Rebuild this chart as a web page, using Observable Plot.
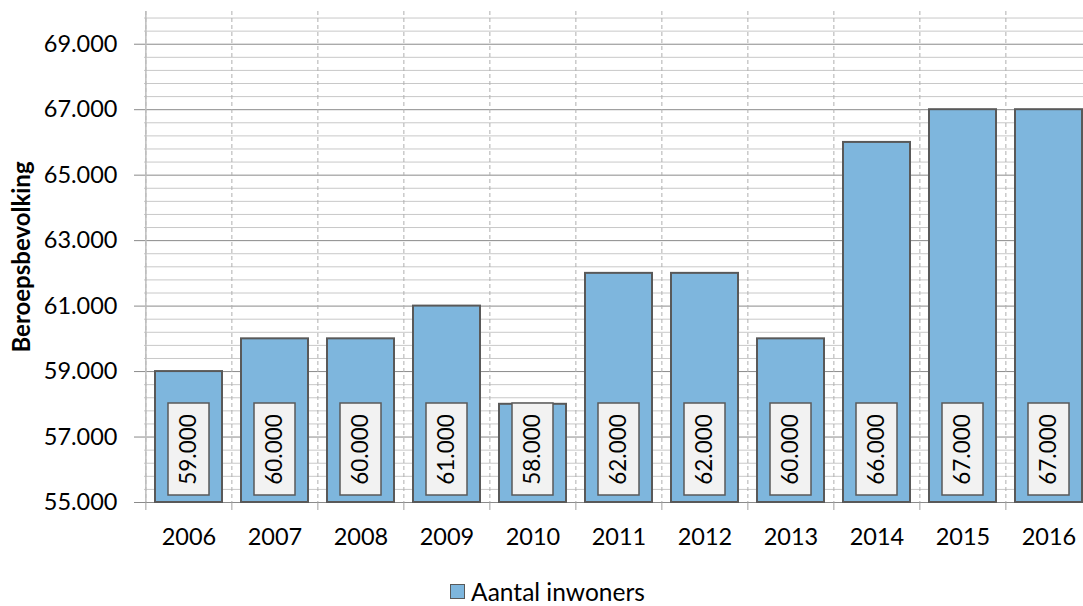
<!DOCTYPE html>
<html>
<head>
<meta charset="utf-8">
<script src="https://cdn.jsdelivr.net/npm/d3@7"></script>
<script src="https://cdn.jsdelivr.net/npm/@observablehq/plot@0.6"></script>
<style>
  html, body { margin: 0; padding: 0; background: #fff; overflow: hidden; }
  #chart svg { overflow: hidden; display: block; }
  #legend {
    height: 36px;
    display: flex;
    align-items: center;
    justify-content: center;
    padding-left: 12px;
    padding-top: 6px;
    box-sizing: border-box;
    font-family: Lato, sans-serif;
    font-size: 24.5px;
    color: #000;
  }
  #legend .swatch {
    width: 13px; height: 13px;
    background: #7eb6dd;
    border: 1.5px solid #595959;
    margin-right: 6px;
  }
</style>
</head>
<body>
<div id="chart"></div>
<div id="legend"><span class="swatch"></span><span id="legend-text"></span></div>
<script>
// Beroepsbevolking per jaar
const years = ["2006", "2007", "2008", "2009", "2010", "2011", "2012", "2013", "2014", "2015", "2016"];
const inwoners = [59000, 60000, 60000, 61000, 58000, 62000, 62000, 60000, 66000, 67000, 67000];
const yTicks = [55000, 57000, 59000, 61000, 63000, 65000, 67000, 69000];
const yDomain = [55000, 70000];
const seriesName = "Aantal inwoners";
const yTitle = "Beroepsbevolking";

const data = years.map((year, i) => ({year, value: inwoners[i]}));
const yBase = yDomain[0];
const minorTicks = d3.range(yDomain[0], yDomain[1], 400).filter(v => !yTicks.includes(v));

const nl = d3.formatLocale({decimal: ",", thousands: ".", grouping: [3], currency: ["€", ""]});
const fmt = nl.format(",");

const xRange = [144, 1093];
const paddingInner = 0.22;
const paddingOuter = 0.11;
const step = (xRange[1] - xRange[0]) / (years.length - paddingInner + 2 * paddingOuter);

const chart = Plot.plot({
  width: 1083,
  height: 570,
  marginLeft: 144,
  marginRight: 0,
  marginTop: 11,
  marginBottom: 68,
  style: {fontFamily: "Lato, sans-serif", fontSize: "23.5px", color: "#000", background: "#fff"},
  x: {domain: years, range: xRange, paddingInner, paddingOuter, label: null},
  y: {domain: yDomain, label: null},
  marks: [
    // minor and major horizontal gridlines
    Plot.ruleY(minorTicks, {stroke: "#c8c8c8", strokeWidth: 1}),
    Plot.ruleY(yTicks, {stroke: "#8a8a8a", strokeWidth: 1}),
    // dashed separators between the years
    Plot.ruleX(years, {x: d => d, dx: -step / 2, stroke: "#b0b0b0", strokeDasharray: "4 3", strokeWidth: 1}),
    Plot.ruleX([years[0]], {x: d => d, dx: -step / 2, stroke: "#bdbdbd", strokeWidth: 1.5}),
    // y axis ticks and labels
    Plot.axisY({ticks: yTicks, tickSize: 10, tickPadding: 17, tickFormat: fmt, stroke: "#8a8a8a", fontSize: 23.5, label: null}),
    // x ticks at the year boundaries
    Plot.axisX({ticks: years, tickSize: 8, tickFormat: () => "", dx: -step / 2, stroke: "#a0a0a0", label: null}),
    // x labels at the year centres
    Plot.axisX({ticks: years, tickSize: 0, tickPadding: 26, fontSize: 23.5, label: null}),
    // bars
    Plot.barY(data, {x: "year", y1: yBase, y2: "value", fill: "#7eb6dd", stroke: "#595959", strokeWidth: 2}),
    // value label boxes
    Plot.barY(data, {
      x: "year", y1: yBase, y2: yBase,
      insetTop: -99, insetBottom: 7, insetLeft: 13, insetRight: 13,
      fill: "#f2f2f2", stroke: "#595959", strokeWidth: 1.5
    }),
    Plot.text(data, {x: "year", y: yBase, dy: -53, text: d => fmt(d.value), rotate: -90, fill: "#000", fontSize: 22.5}),
    // y axis title
    Plot.text([yTitle], {frameAnchor: "left", textAnchor: "middle", dx: -122, rotate: -90, fontWeight: "bold", fontSize: 24, fill: "#000"})
  ]
});

document.getElementById("chart").appendChild(chart);
document.getElementById("legend-text").textContent = seriesName;
</script>
</body>
</html>
